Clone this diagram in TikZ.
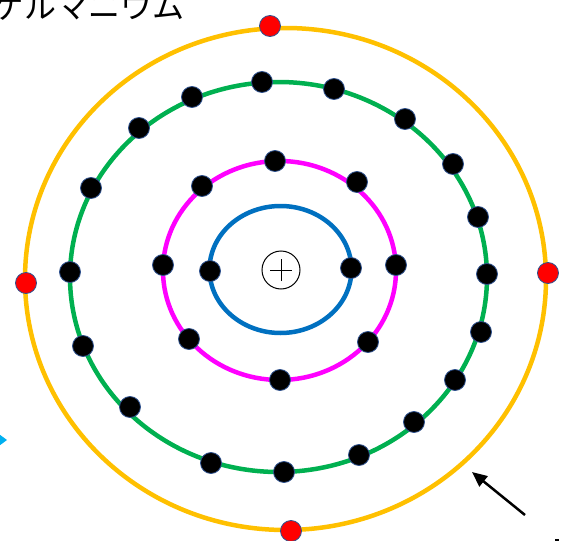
\documentclass[tikz,border=0pt]{standalone}
\usepackage{fontspec}
\newfontfamily\jpfont{Noto Sans CJK JP}
\usetikzlibrary{arrows.meta}
\definecolor{shellA}{HTML}{0070C0}
\definecolor{shellB}{HTML}{FF00FF}
\definecolor{shellC}{HTML}{00B050}
\definecolor{shellD}{HTML}{FFC000}
\definecolor{dotrim}{HTML}{2F528F}
\definecolor{pointer}{HTML}{00B0F0}
\tikzset{
	electron/.style={circle, fill=black, draw=dotrim, line width=0.8pt, inner sep=0pt, minimum size=21pt},
	valence/.style={electron, fill=red},
	shell/.style={line width=4.5pt}
}
\begin{document}
\begin{tikzpicture}[x=1pt, y=-1pt]
		\useasboundingbox (0,0) rectangle (566,541);

		\node[anchor=base west, font=\jpfont\fontsize{32}{32}\selectfont, inner sep=0pt] (title) at (-8,18) {ゲルマニウム};
		\fill[pointer] (-12,426) -- (7,440) -- (-12,454) -- cycle;

		% shells
		\draw[shell, shellD] (285.5,279) ellipse (260.5 and 251);
		\draw[shell, shellC] (278.5,277) ellipse (208.5 and 195);
		\draw[shell, shellB] (279.5,270.5) ellipse (116.5 and 109.5);
		\draw[shell, shellA] (280.5,269.5) ellipse (71 and 63.5);

		% nucleus
		\node[draw, circle, line width=1pt, minimum size=38pt, inner sep=0pt] (nucleus) at (281,270) {};
		\draw[line width=1pt] ([xshift=-11pt]nucleus.center) -- ([xshift=11pt]nucleus.center);
		\draw[line width=1pt] ([yshift=-11pt]nucleus.center) -- ([yshift=11pt]nucleus.center);

		% electrons
		\foreach \x/\y [count=\i] in {210/271, 351/268}
			\node[electron] (k\i) at (\x,\y) {};
		\foreach \x/\y [count=\i] in {275/161, 202/186, 163/265, 189/339, 280/380, 368/342, 396/265, 357/182}
			\node[electron] (l\i) at (\x,\y) {};
		\foreach \x/\y [count=\i] in {262/82, 334/89, 405/119, 453/164, 478/217, 487/274, 481/332, 455/380, 414/422, 359/455, 284/472, 211/463, 130/407, 83/346, 70/272, 91/188, 139/128, 192/97}
			\node[electron] (m\i) at (\x,\y) {};
		\foreach \x/\y [count=\i] in {270/26, 548/273, 291/531, 26/283}
			\node[valence] (n\i) at (\x,\y) {};

		\coordinate (tail) at (525,515);
		\coordinate (tip) at (472,472);
		\draw[line width=2.5pt, -{Triangle[length=15pt, width=13pt]}] (tail) -- (tip);
		\fill (555,538.5) rectangle (559,541);
	\end{tikzpicture}
\end{document}
